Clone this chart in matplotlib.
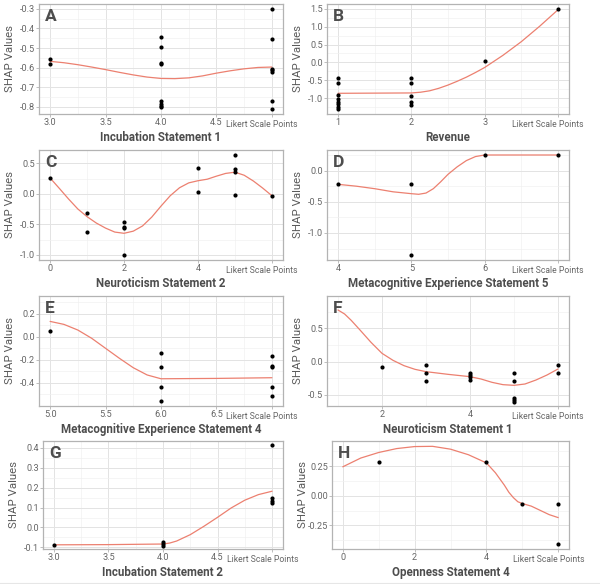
import matplotlib
matplotlib.use("Agg")
import matplotlib.pyplot as plt
from matplotlib.ticker import FixedLocator, FixedFormatter, MultipleLocator

plt.rcParams['font.family'] = ['Roboto', 'DejaVu Sans']
plt.rcParams['axes.unicode_minus'] = False

# ---------------- data ----------------
# Panel A: Incubation Statement 1
a_px = [3, 3, 4, 4, 4, 4, 4, 4, 4, 4, 5, 5, 5, 5, 5, 5, 5]
a_py = [-0.554, -0.581, -0.445, -0.497, -0.575, -0.581, -0.772, -0.783, -0.793, -0.801,
        -0.302, -0.456, -0.605, -0.613, -0.624, -0.771, -0.81]
a_cx = [3.0, 3.125, 3.25, 3.375, 3.5, 3.625, 3.75, 3.875, 4.0, 4.125, 4.25, 4.375, 4.5,
        4.625, 4.75, 4.875, 5.0]
a_cy = [-0.568, -0.575, -0.585, -0.597, -0.610, -0.624, -0.637, -0.648, -0.655, -0.656,
        -0.652, -0.642, -0.628, -0.616, -0.606, -0.599, -0.597]

# Panel B: Revenue
b_px = [1, 1, 1, 1, 1, 1, 1, 1, 2, 2, 2, 2, 2, 3, 4]
b_py = [-0.43, -0.58, -0.92, -1.02, -1.10, -1.17, -1.23, -1.30,
        -0.43, -0.58, -0.93, -1.09, -1.19, 0.03, 1.49]
b_cx = [1.0, 1.5, 2.0, 2.125, 2.25, 2.375, 2.5, 2.625, 2.75, 2.875, 3.0, 3.25, 3.5, 3.75, 4.0]
b_cy = [-0.86, -0.855, -0.85, -0.83, -0.79, -0.72, -0.63, -0.525, -0.41, -0.28, -0.14,
        0.20, 0.58, 1.01, 1.47]

# Panel C: Neuroticism Statement 2
c_px = [0, 1, 1, 2, 2, 2, 2, 4, 4, 5, 5, 5, 5, 6]
c_py = [0.26, -0.307, -0.624, -0.466, -0.547, -0.564, -1.0, 0.418, 0.031,
        0.636, 0.407, 0.353, -0.013, -0.035]
c_cx = [0.0, 0.25, 0.5, 0.75, 1.0, 1.25, 1.5, 1.75, 2.0, 2.25, 2.5, 2.75, 3.0,
        3.25, 3.5, 3.75, 4.0, 4.25, 4.5, 4.75, 5.0, 5.25, 5.5, 5.75, 6.0]
c_cy = [0.26, 0.09, -0.084, -0.247, -0.373, -0.477, -0.560, -0.625, -0.645, -0.610,
        -0.525, -0.38, -0.20, -0.03, 0.100, 0.180, 0.215, 0.24, 0.29, 0.335, 0.355,
        0.305, 0.21, 0.095, -0.03]

# Panel D: Metacognitive Experience Statement 5
d_px = [4, 5, 5, 6, 7]
d_py = [-0.219, -0.219, -1.353, 0.251, 0.251]
d_cx = [4.0, 4.25, 4.5, 4.75, 5.0, 5.1, 5.2, 5.3, 5.4, 5.5, 5.625, 5.75, 5.875, 6.0, 6.5, 7.0]
d_cy = [-0.22, -0.25, -0.29, -0.34, -0.37, -0.38, -0.36, -0.29, -0.18, -0.06, 0.06,
        0.16, 0.225, 0.25, 0.25, 0.25]

# Panel E: Metacognitive Experience Statement 4
e_px = [5, 6, 6, 6, 6, 7, 7, 7, 7, 7]
e_py = [0.046, -0.142, -0.267, -0.438, -0.559, -0.168, -0.252, -0.267, -0.438, -0.516]
e_cx = [5.0, 5.125, 5.25, 5.375, 5.5, 5.625, 5.75, 5.875, 6.0, 6.5, 7.0]
e_cy = [0.133, 0.107, 0.058, -0.014, -0.101, -0.188, -0.27, -0.333, -0.366, -0.363, -0.357]

# Panel F: Neuroticism Statement 1
f_px = [2, 3, 3, 3, 4, 4, 4, 4, 5, 5, 5, 5, 5, 6, 6]
f_py = [-0.085, -0.055, -0.175, -0.29, -0.165, -0.2, -0.23, -0.28,
        -0.165, -0.29, -0.54, -0.57, -0.6, -0.055, -0.175]
f_cx = [1.0, 1.15, 1.3, 1.5, 1.75, 2.0, 2.25, 2.5, 2.75, 3.0, 3.5, 4.0, 4.25, 4.5, 4.75,
        5.0, 5.25, 5.5, 5.75, 6.0]
f_cy = [0.775, 0.715, 0.62, 0.475, 0.29, 0.125, 0.02, -0.06, -0.115, -0.15, -0.19,
        -0.225, -0.26, -0.31, -0.345, -0.355, -0.335, -0.275, -0.20, -0.11]

# Panel G: Incubation Statement 2
g_px = [3, 4, 4, 4, 5, 5, 5, 5]
g_py = [-0.09, -0.073, -0.083, -0.093, 0.412, 0.147, 0.135, 0.121]
g_cx = [3.0, 3.5, 4.0, 4.0625, 4.125, 4.25, 4.375, 4.5, 4.625, 4.75, 4.875, 5.0]
g_cy = [-0.087, -0.086, -0.083, -0.078, -0.068, -0.036, 0.006, 0.051, 0.098, 0.137,
        0.165, 0.182]

# Panel H: Openness Statement 4
h_px = [1, 4, 5, 6, 6]
h_py = [0.283, 0.283, -0.068, -0.068, -0.407]
h_cx = [0.0, 0.5, 1.0, 1.5, 2.0, 2.5, 3.0, 3.5, 4.0, 4.25, 4.5, 4.625, 4.75, 4.875, 5.0,
        5.25, 5.5, 5.75, 6.0]
h_cy = [0.245, 0.319, 0.366, 0.399, 0.416, 0.418, 0.394, 0.347, 0.278, 0.195, 0.090,
        0.030, -0.015, -0.050, -0.065, -0.087, -0.123, -0.159, -0.184]

letters = ['A', 'B', 'C', 'D', 'E', 'F', 'G', 'H']
xtitles = ['Incubation Statement 1', 'Revenue', 'Neuroticism Statement 2',
           'Metacognitive Experience Statement 5', 'Metacognitive Experience Statement 4',
           'Neuroticism Statement 1', 'Incubation Statement 2', 'Openness Statement 4']
xticks = [[3.0, 3.5, 4.0, 4.5, 5.0], [1, 2, 3, 4], [0, 2, 4, 6], [4, 5, 6, 7],
          [5.0, 5.5, 6.0, 6.5, 7.0], [2, 4, 6], [3.0, 3.5, 4.0, 4.5, 5.0], [0, 2, 4, 6]]
xticklabels = [['3.0', '3.5', '4.0', '4.5', ''], ['1', '2', '3', ''], ['0', '2', '4', ''],
               ['4', '5', '6', ''], ['5.0', '5.5', '6.0', '6.5', ''], ['2', '4', ''],
               ['3.0', '3.5', '4.0', '4.5', ''], ['0', '2', '4', '']]
yticks = [[-0.8, -0.7, -0.6, -0.5, -0.4, -0.3], [-1.0, -0.5, 0.0, 0.5, 1.0, 1.5],
          [-1.0, -0.5, 0.0, 0.5], [-1.0, -0.5, 0.0], [-0.4, -0.2, 0.0, 0.2],
          [-0.5, 0.0, 0.5], [-0.1, 0.0, 0.1, 0.2, 0.3, 0.4], [-0.25, 0.0, 0.25]]
yticklabels = [['-0.8', '-0.7', '-0.6', '-0.5', '-0.4', '-0.3'],
               ['-1.0', '-0.5', '0.0', '0.5', '1.0', '1.5'],
               ['-1.0', '-0.5', '0.0', '0.5'], ['-1.0', '-0.5', '0.0'],
               ['-0.4', '-0.2', '0.0', '0.2'], ['-0.5', '0.0', '0.5'],
               ['-0.1', '0.0', '0.1', '0.2', '0.3', '0.4'], ['-0.25', '0.00', '0.25']]
xminor = [0.25, 0.5, 1, 0.5, 0.25, 1, 0.25, 1]
yminor = [0.05, 0.25, 0.25, 0.25, 0.1, 0.25, 0.05, 0.125]
xlims = [(2.9, 5.1), (0.85, 4.15), (-0.3, 6.3), (3.85, 7.15), (4.9, 7.1), (0.75, 6.25),
         (2.9, 5.1), (-0.3, 6.3)]
ylims = [(-0.836, -0.276), (-1.437, 1.63), (-1.082, 0.718), (-1.433, 0.33), (-0.603, 0.354),
         (-0.665, 0.985), (-0.108, 0.434), (-0.449, 0.463)]

points = [(a_px, a_py), (b_px, b_py), (c_px, c_py), (d_px, d_py),
          (e_px, e_py), (f_px, f_py), (g_px, g_py), (h_px, h_py)]
curves = [(a_cx, a_cy), (b_cx, b_cy), (c_cx, c_cy), (d_cx, d_cy),
          (e_cx, e_cy), (f_cx, f_cy), (g_cx, g_cy), (h_cx, h_cy)]

# ---------------- layout (pixels) ----------------
W, H = 600, 584
rows = [(4, 114), (150, 260), (296, 406), (441, 549)]
cols = [(39, 283), (327, 569)]

fig = plt.figure(figsize=(W / 100, H / 100), dpi=100)
fig.patch.set_facecolor('white')

BORDER = '#B3B3B3'
TXT = '#5A5A5A'
CURVE = '#EC8070'

for i in range(8):
    r, c = divmod(i, 2)
    top, bot = rows[r]
    left, right = cols[c]
    if i == 6:
        left = 43
    if i == 7:
        left = 332
    ax = fig.add_axes([left / W, 1 - bot / H, (right - left) / W, (bot - top) / H])
    wpx, hpx = right - left, bot - top

    ax.set_xlim(*xlims[i])
    ax.set_ylim(*ylims[i])
    ax.xaxis.set_major_locator(FixedLocator(xticks[i]))
    ax.xaxis.set_major_formatter(FixedFormatter(xticklabels[i]))
    ax.yaxis.set_major_locator(FixedLocator(yticks[i]))
    ax.yaxis.set_major_formatter(FixedFormatter(yticklabels[i]))
    ax.xaxis.set_minor_locator(MultipleLocator(xminor[i]))
    ax.yaxis.set_minor_locator(MultipleLocator(yminor[i]))

    ax.grid(which='major', color='#E3E3E3', linewidth=0.7, zorder=0)
    ax.grid(which='minor', color='#F0F0F0', linewidth=0.45, zorder=0)
    ax.set_axisbelow(True)
    for sp in ax.spines.values():
        sp.set_color(BORDER)
        sp.set_linewidth(0.9)
    ax.tick_params(which='major', length=2.0, width=0.6, color=BORDER, pad=1.0,
                   labelsize=6.6, labelcolor='#666666')
    ax.tick_params(which='minor', length=0)

    cx, cy = curves[i]
    ax.plot(cx, cy, color=CURVE, linewidth=0.9, zorder=2, solid_capstyle='round',
            solid_joinstyle='round')
    px, py = points[i]
    ax.scatter(px, py, s=9, color='black', zorder=3, linewidths=0)

    ax.text(6 / wpx, 1 - 5 / hpx, letters[i], transform=ax.transAxes, ha='left', va='top',
            fontsize=12.5, fontweight='bold', color='#4D4D4D', zorder=5)

    ax.set_xlabel(xtitles[i], fontsize=8.3, fontweight='bold', color='#4D4D4D')
    ax.xaxis.set_label_coords(0.5, -17 / hpx)
    ax.set_ylabel('SHAP Values', fontsize=8.2, color=TXT)
    ax.yaxis.set_label_coords(-24 / wpx, 0.5)

    ax.annotate('Likert Scale Points', xy=(xticks[i][-1], 0),
                xycoords=('data', 'axes fraction'), xytext=(18.7, -7.3),
                textcoords='offset points', ha='right', va='center',
                fontsize=6.2, color='#666666', annotation_clip=False)

fig.add_artist(plt.Line2D([0, 1], [1 - 582.5 / H, 1 - 582.5 / H], color='#E6E6E6',
                          linewidth=0.8, transform=fig.transFigure))

fig.savefig('out.png', dpi=100, facecolor='white')
